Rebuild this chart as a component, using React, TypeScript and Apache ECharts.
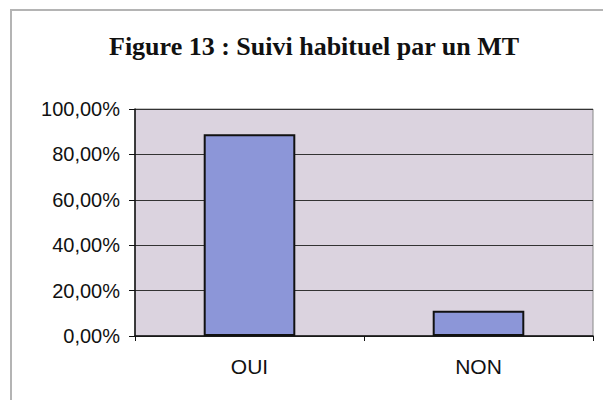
import React, { useEffect, useRef } from "react";
import * as echarts from "echarts";

const categories = ["OUI", "NON"];
const values = [88.9, 11.1];
const yTicks = { min: 0, max: 100, interval: 20 };
const titleText = "Figure 13 : Suivi habituel par un MT";

export default function App() {
  const ref = useRef<HTMLDivElement>(null);
  useEffect(() => {
    const chart = echarts.init(ref.current!, null, { renderer: "svg" });
    chart.setOption({
      animation: false,
      backgroundColor: "#ffffff",
      title: {
        text: titleText,
        left: 104,
        top: 28,
        textStyle: {
          fontFamily: "Liberation Serif",
          fontWeight: "bold",
          fontSize: 26,
          color: "#111",
        },
      },
      graphic: [
        {
          type: "rect",
          shape: { x: 11, y: 10, width: 700, height: 500 },
          style: { fill: "none", stroke: "#b4b4b4", lineWidth: 2 },
          silent: true,
        },
      ],
      grid: {
        left: 135,
        right: 10,
        top: 109,
        bottom: 64,
        show: true,
        backgroundColor: "#dbd3df",
        borderColor: "#888",
        borderWidth: 1,
      },
      xAxis: {
        type: "category",
        data: categories,
        axisLine: { lineStyle: { color: "#111", width: 1.5 } },
        axisTick: { show: true, length: 5, lineStyle: { color: "#111" } },
        axisLabel: {
          margin: 20,
          fontFamily: "Liberation Sans",
          fontSize: 21,
          color: "#111",
        },
      },
      yAxis: {
        type: "value",
        min: yTicks.min,
        max: yTicks.max,
        interval: yTicks.interval,
        axisLine: { show: true, lineStyle: { color: "#111", width: 1.5 } },
        axisTick: { show: true, length: 6, lineStyle: { color: "#111" } },
        splitLine: { lineStyle: { color: "#333", width: 1 } },
        axisLabel: {
          margin: 15,
          fontFamily: "Liberation Sans",
          fontSize: 20,
          color: "#111",
          formatter: (v: number) => v.toFixed(2).replace(".", ",") + "%",
        },
      },
      series: [
        {
          type: "bar",
          data: values,
          barCategoryGap: "60%",
          itemStyle: {
            color: "#8c96d8",
            borderColor: "#111",
            borderWidth: 2,
          },
        },
      ],
    });
    return () => chart.dispose();
  }, []);
  return (
    <div
      ref={ref}
      style={{ position: "fixed", left: 0, top: 0, width: 603, height: 400 }}
    />
  );
}
